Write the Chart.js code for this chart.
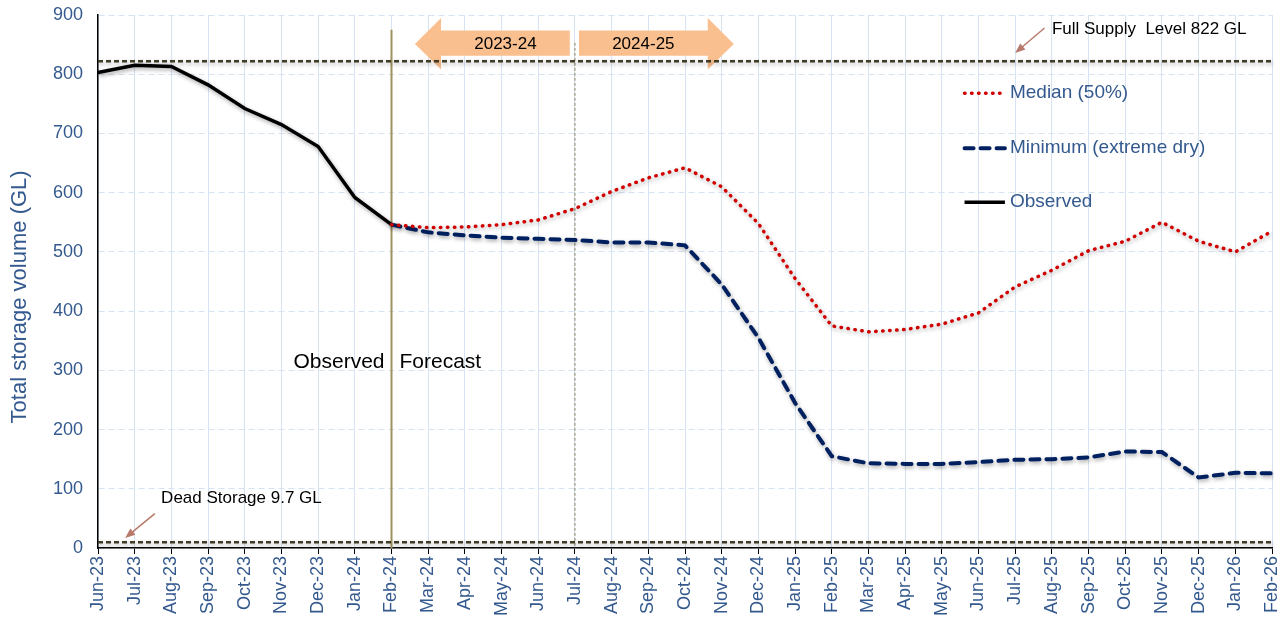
<!DOCTYPE html>
<html>
<head>
<meta charset="utf-8">
<script src="https://cdn.jsdelivr.net/npm/chart.js@4.4.0/dist/chart.umd.min.js"></script>
<style>
  body { margin: 0; background: #fff; }
  #wrap { width: 1287px; height: 621px; }
</style>
</head>
<body>
<div id="wrap"><canvas id="storageChart"></canvas></div>
<script>
const months = ["Jun-23","Jul-23","Aug-23","Sep-23","Oct-23","Nov-23","Dec-23","Jan-24","Feb-24",
  "Mar-24","Apr-24","May-24","Jun-24","Jul-24","Aug-24","Sep-24","Oct-24","Nov-24","Dec-24",
  "Jan-25","Feb-25","Mar-25","Apr-25","May-25","Jun-25","Jul-25","Aug-25","Sep-25","Oct-25",
  "Nov-25","Dec-25","Jan-26","Feb-26"];

const observed = [803, 815, 813, 782, 742, 715, 678, 592, 546];
const median = [546, 541, 542, 546, 554, 573, 602, 625, 642, 610, 548, 455, 375, 365, 369,
  378, 397, 441, 469, 502, 518, 550, 518, 500, 535];
const minimum = [546, 533, 528, 524, 522, 520, 516, 516, 511, 445, 355, 245, 155, 143, 142,
  142, 145, 149, 150, 153, 163, 162, 119, 127, 126];

const fullSupplyLevel = 822;
const deadStorage = 9.7;
const forecastStart = "Feb-24";
const waterYearSplit = "Jul-24";

const FONT = "'Liberation Sans', Arial, sans-serif";
const BLUE_TEXT = "#34598E";

// pad the series so they line up with the month labels
const startIdx = months.indexOf(forecastStart);
const observedData = months.map((m, i) => i < observed.length ? observed[i] : null);
const medianData = months.map((m, i) => i >= startIdx ? median[i - startIdx] : null);
const minimumData = months.map((m, i) => i >= startIdx ? minimum[i - startIdx] : null);

function setShadow(ctx) {
  ctx.shadowColor = "rgba(0,0,0,0.35)";
  ctx.shadowBlur = 4;
  ctx.shadowOffsetX = 1;
  ctx.shadowOffsetY = 2;
}

const shadowPlugin = {
  id: "shadow",
  beforeDatasetDraw(chart) { chart.ctx.save(); setShadow(chart.ctx); },
  afterDatasetDraw(chart) { chart.ctx.restore(); }
};

function arrowShape(ctx, pts) {
  ctx.beginPath();
  pts.forEach((p, i) => i ? ctx.lineTo(p.x, p.y) : ctx.moveTo(p.x, p.y));
  ctx.closePath();
  ctx.fill();
}

function pointerArrow(ctx, from, to, color) {
  const ang = Math.atan2(to.y - from.y, to.x - from.x);
  ctx.save();
  ctx.strokeStyle = color;
  ctx.fillStyle = color;
  ctx.lineWidth = 1.5;
  ctx.beginPath();
  ctx.moveTo(from.x, from.y);
  ctx.lineTo(to.x - 6 * Math.cos(ang), to.y - 6 * Math.sin(ang));
  ctx.stroke();
  ctx.beginPath();
  ctx.moveTo(to.x, to.y);
  ctx.lineTo(to.x - 10 * Math.cos(ang) + 4 * Math.sin(ang), to.y - 10 * Math.sin(ang) - 4 * Math.cos(ang));
  ctx.lineTo(to.x - 10 * Math.cos(ang) - 4 * Math.sin(ang), to.y - 10 * Math.sin(ang) + 4 * Math.cos(ang));
  ctx.closePath();
  ctx.fill();
  ctx.restore();
}

const annotationPlugin = {
  id: "annotations",
  beforeDatasetsDraw(chart) {
    const { ctx, scales: { x, y }, chartArea } = chart;
    const P = (i, v) => ({ x: x.getPixelForValue(i), y: y.getPixelForValue(v) });
    const fIdx = months.indexOf(forecastStart);
    const sIdx = months.indexOf(waterYearSplit);

    // y axis title, sits a little below the middle like the original
    ctx.save();
    ctx.translate(20, y.getPixelForValue(424));
    ctx.rotate(-Math.PI / 2);
    ctx.fillStyle = BLUE_TEXT;
    ctx.font = "22px " + FONT;
    ctx.textAlign = "center";
    ctx.textBaseline = "middle";
    ctx.fillText("Total storage volume (GL)", 0, 0);
    ctx.restore();

    // financial year arrows
    ctx.save();
    ctx.fillStyle = "#F9BF8F";
    const head = 0.71;
    const a = fIdx + 0.64, b = sIdx - 0.14;
    arrowShape(ctx, [P(a, 851), P(a + head, 895), P(a + head, 874), P(b, 874), P(b, 831), P(a + head, 831), P(a + head, 808)]);
    const c = sIdx + 0.11, d = sIdx + 4.33;
    arrowShape(ctx, [P(c, 874), P(d - head, 874), P(d - head, 895), P(d, 851), P(d - head, 808), P(d - head, 831), P(c, 831)]);
    ctx.fillStyle = "#000";
    ctx.font = "17px " + FONT;
    ctx.textAlign = "center";
    ctx.textBaseline = "middle";
    let t = P((a + head + b) / 2, 851);
    ctx.fillText("2023-24", t.x, t.y);
    t = P((c + d - head) / 2, 851);
    ctx.fillText("2024-25", t.x, t.y);
    ctx.restore();

    // forecast start line
    ctx.save();
    let top = P(fIdx, 875);
    ctx.strokeStyle = "#A0925E";
    ctx.lineWidth = 2;
    ctx.beginPath();
    ctx.moveTo(top.x, top.y);
    ctx.lineTo(top.x, chartArea.bottom);
    ctx.stroke();
    // water year split
    top = P(sIdx, 853);
    ctx.strokeStyle = "#8E8462";
    ctx.lineWidth = 1;
    ctx.setLineDash([3, 2]);
    ctx.beginPath();
    ctx.moveTo(top.x, top.y);
    ctx.lineTo(top.x, chartArea.bottom);
    ctx.stroke();
    ctx.restore();

    // storage levels
    ctx.save();
    setShadow(ctx);
    ctx.strokeStyle = "#3F3B25";
    ctx.lineWidth = 2.5;
    ctx.setLineDash([5, 3]);
    [fullSupplyLevel, deadStorage].forEach(v => {
      const yy = y.getPixelForValue(v);
      ctx.beginPath();
      ctx.moveTo(chartArea.left, yy);
      ctx.lineTo(chartArea.right, yy);
      ctx.stroke();
    });
    ctx.restore();

    // text labels
    ctx.save();
    ctx.fillStyle = "#000";
    ctx.textBaseline = "middle";
    ctx.font = "21px " + FONT;
    const ob = P(fIdx, 314);
    ctx.textAlign = "right";
    ctx.fillText("Observed", ob.x - 7, ob.y);
    ctx.textAlign = "left";
    ctx.fillText("Forecast", ob.x + 8, ob.y);
    ctx.font = "17px " + FONT;
    let lp = P(26.0, 875);
    ctx.fillText("Full Supply  Level " + fullSupplyLevel + " GL", lp.x, lp.y);
    lp = P(1.72, 84);
    ctx.fillText("Dead Storage " + deadStorage + " GL", lp.x, lp.y);
    ctx.restore();
    pointerArrow(ctx, P(25.8, 878), P(25.0, 836), "#B77A6C");
    pointerArrow(ctx, P(1.55, 58), P(0.74, 17), "#B77A6C");
  },
  afterDatasetsDraw(chart) {
    const { ctx, scales: { x, y } } = chart;
    const P = (i, v) => ({ x: x.getPixelForValue(i), y: y.getPixelForValue(v) });
    // legend inside the plot
    const items = [
      { label: "Median (50%)", ds: chart.data.datasets[0], v: 768 },
      { label: "Minimum (extreme dry)", ds: chart.data.datasets[1], v: 675 },
      { label: "Observed", ds: chart.data.datasets[2], v: 584 }
    ];
    ctx.save();
    ctx.font = "19px " + FONT;
    ctx.textBaseline = "middle";
    ctx.textAlign = "left";
    items.forEach(it => {
      const p0 = P(23.62, it.v), p1 = P(24.72, it.v);
      ctx.save();
      ctx.strokeStyle = it.ds.borderColor;
      ctx.lineWidth = it.ds.borderWidth;
      ctx.lineCap = it.ds.borderCapStyle || "butt";
      ctx.setLineDash(it.ds.borderDash || []);
      ctx.beginPath();
      ctx.moveTo(p0.x, p0.y);
      ctx.lineTo(p1.x, p1.y);
      ctx.stroke();
      ctx.restore();
      ctx.fillStyle = BLUE_TEXT;
      ctx.fillText(it.label, p1.x + 5, p0.y);
    });
    ctx.restore();
  }
};

document.addEventListener("DOMContentLoaded", () => {
  const ctx = document.getElementById("storageChart").getContext("2d");
  new Chart(ctx, {
    type: "line",
    data: {
      labels: months,
      datasets: [
        { label: "Median (50%)", data: medianData, borderColor: "#D00000", borderWidth: 3.5,
          borderDash: [0.5, 6.5], borderCapStyle: "round", pointRadius: 0, tension: 0 },
        { label: "Minimum (extreme dry)", data: minimumData, borderColor: "#002060", borderWidth: 4,
          borderDash: [9, 7], borderCapStyle: "round", pointRadius: 0, tension: 0 },
        { label: "Observed", data: observedData, borderColor: "#000000", borderWidth: 3.5,
          pointRadius: 0, tension: 0 }
      ]
    },
    options: {
      responsive: true,
      maintainAspectRatio: false,
      animation: false,
      layout: { padding: { left: 6, right: 15, top: 15, bottom: 0 } },
      plugins: { legend: { display: false }, tooltip: { enabled: false } },
      scales: {
        x: {
          grid: { color: "#D6E3F3", lineWidth: 1, tickColor: "#000", tickLength: 6 },
          border: { display: true, color: "#000", width: 1.5 },
          ticks: { color: BLUE_TEXT, font: { family: FONT, size: 18 }, maxRotation: 90, minRotation: 90,
            autoSkip: false, padding: 2 },
          afterFit(scale) {
            scale.height = 73;
            scale.paddingLeft = 0; scale.paddingRight = 0;
          }
        },
        y: {
          min: 0, max: 900,
          grid: { color: "#D6E3F3", lineWidth: 1, drawTicks: false },
          border: { display: true, color: "#000", width: 1.5, dash: [6, 4] },
          ticks: { stepSize: 100, color: BLUE_TEXT, font: { family: FONT, size: 18 }, padding: 15 },
          afterFit(scale) {
            scale.width = 92;
            scale.paddingTop = 0; scale.paddingBottom = 0;
          }
        }
      }
    },
    plugins: [shadowPlugin, annotationPlugin]
  });
});
</script>
</body>
</html>
